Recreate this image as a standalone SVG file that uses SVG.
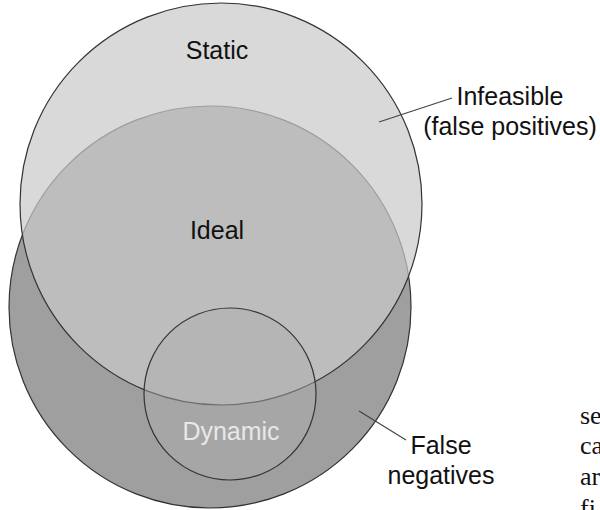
<svg xmlns="http://www.w3.org/2000/svg" width="600" height="510" viewBox="0 0 600 510">
  <style>
    .lbl { font-family: "Liberation Sans", Arial, sans-serif; font-size: 25px; fill: #111; text-anchor: middle; }
    .frag { font-family: "Liberation Serif", "Times New Roman", serif; font-size: 26px; fill: #111; }
    .edge { stroke: #333; stroke-width: 1.2; }
    .leader { stroke: #444; stroke-width: 1.2; fill: none; }
  </style>
  <rect width="600" height="510" fill="#fff"/>
  <g id="ideal">
    <circle cx="210" cy="307" r="201" fill="#9f9f9f" class="edge"/>
  </g>
  <g id="static">
    <circle cx="221" cy="204" r="201" fill="#c9c9c9" fill-opacity="0.71" class="edge"/>
  </g>
  <g id="dynamic">
    <circle cx="230" cy="394" r="86" fill="#adadad" fill-opacity="0.48" class="edge"/>
  </g>
  <g id="labels">
    <text class="lbl" x="217" y="59">Static</text>
    <text class="lbl" x="217" y="239">Ideal</text>
    <text class="lbl" x="231" y="440" style="fill:#e8e8e8">Dynamic</text>
    <text class="lbl" x="510" y="105">Infeasible</text>
    <text class="lbl" x="510" y="135">(false positives)</text>
    <text class="lbl" x="441" y="454">False</text>
    <text class="lbl" x="441" y="484">negatives</text>
  </g>
  <g id="connectors">
    <line class="leader" x1="379" y1="122" x2="452" y2="98"/>
    <line class="leader" x1="359" y1="411" x2="406" y2="440"/>
  </g>
  <g id="fragments">
    <text class="frag" x="580" y="424">se</text>
    <text class="frag" x="580" y="454">ca</text>
    <text class="frag" x="580" y="485">ar</text>
    <text class="frag" x="580" y="517">fi</text>
  </g>
</svg>
